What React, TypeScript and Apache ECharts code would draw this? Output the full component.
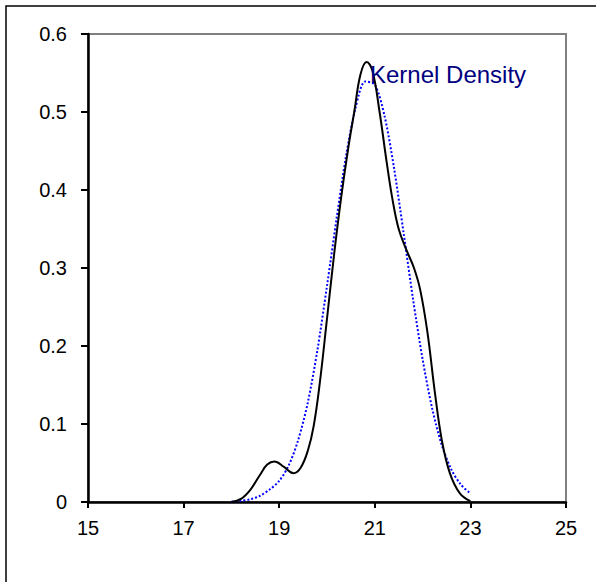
import React, { useEffect, useRef } from "react";
import * as echarts from "echarts";

const kernelX = [18.0, 18.2, 18.4, 18.6, 18.75, 18.9, 19.1, 19.3, 19.45, 19.6, 19.72, 19.85, 20.0, 20.15, 20.3, 20.45, 20.57, 20.7, 20.83, 20.95, 21.1, 21.25, 21.37, 21.5, 21.67, 21.82, 21.95, 22.1, 22.26, 22.4, 22.57, 22.78, 23.0];
const kernelY = [0.0, 0.004, 0.016, 0.035, 0.048, 0.052, 0.045, 0.037, 0.044, 0.066, 0.097, 0.153, 0.235, 0.318, 0.392, 0.456, 0.5, 0.548, 0.564, 0.553, 0.5, 0.435, 0.388, 0.35, 0.322, 0.3, 0.272, 0.218, 0.139, 0.08, 0.037, 0.011, 0.001];

const normalX = [18.0, 18.2, 18.4, 18.6, 18.8, 19.0, 19.2, 19.4, 19.6, 19.8, 20.0, 20.2, 20.4, 20.6, 20.8, 21.0, 21.2, 21.4, 21.6, 21.8, 22.0, 22.2, 22.4, 22.6, 22.8, 23.0];
const normalY = [0.0004, 0.0015, 0.0035, 0.008, 0.016, 0.027, 0.047, 0.08, 0.128, 0.195, 0.277, 0.363, 0.444, 0.506, 0.539, 0.535, 0.496, 0.429, 0.346, 0.26, 0.183, 0.12, 0.0733, 0.0418, 0.0223, 0.0111];

const xTicks = { min: 15, max: 25, interval: 2 };
const yTicks = { min: 0, max: 0.6, interval: 0.1 };
const labelText = "Kernel Density";

export default function App() {
  const ref = useRef<HTMLDivElement>(null);
  useEffect(() => {
    document.body.style.margin = "0";
    const chart = echarts.init(ref.current!, null, { renderer: "svg" });
    const font = "'Liberation Sans', Arial, sans-serif";
    chart.setOption({
      animation: false,
      backgroundColor: "#ffffff",
      grid: {
        left: 88,
        top: 34,
        right: 30,
        bottom: 80,
        show: true,
        borderColor: "#808080",
        borderWidth: 2,
        containLabel: false,
      },
      xAxis: {
        type: "value",
        min: xTicks.min,
        max: xTicks.max,
        interval: xTicks.interval,
        axisLine: { show: true, onZero: false, lineStyle: { color: "#000", width: 2.5 } },
        axisTick: { show: true, inside: false, length: 6, lineStyle: { color: "#000", width: 2 } },
        axisLabel: { color: "#000", fontSize: 20, fontFamily: font, margin: 16 },
        splitLine: { show: false },
      },
      yAxis: {
        type: "value",
        min: yTicks.min,
        max: yTicks.max,
        interval: yTicks.interval,
        axisLine: { show: true, lineStyle: { color: "#000", width: 2.5 } },
        axisTick: { show: true, inside: false, length: 7, lineStyle: { color: "#000", width: 2 } },
        axisLabel: { color: "#000", fontSize: 20, fontFamily: font, margin: 21 },
        splitLine: { show: false },
      },
      series: [
        {
          type: "line",
          data: normalX.map((x, i) => [x, normalY[i]]),
          smooth: 0.3,
          showSymbol: false,
          lineStyle: { color: "#0000ff", width: 2, type: [2, 2] },
          z: 2,
        },
        {
          type: "line",
          data: kernelX.map((x, i) => [x, kernelY[i]]),
          smooth: 0.4,
          showSymbol: false,
          lineStyle: { color: "#000", width: 2 },
          z: 3,
        },
      ],
      graphic: [
        {
          type: "rect",
          shape: { x: 6, y: 6, width: 620, height: 620 },
          style: { fill: "none", stroke: "#000", lineWidth: 1.5 },
          silent: true,
        },
        {
          type: "text",
          x: 370,
          y: 74,
          z: 10,
          style: {
            text: labelText,
            fill: "#000080",
            font: `24px ${font}`,
            textAlign: "left",
            textVerticalAlign: "middle",
          },
        },
      ],
    });
    return () => chart.dispose();
  }, []);
  return <div ref={ref} style={{ width: 596, height: 582 }} />;
}
